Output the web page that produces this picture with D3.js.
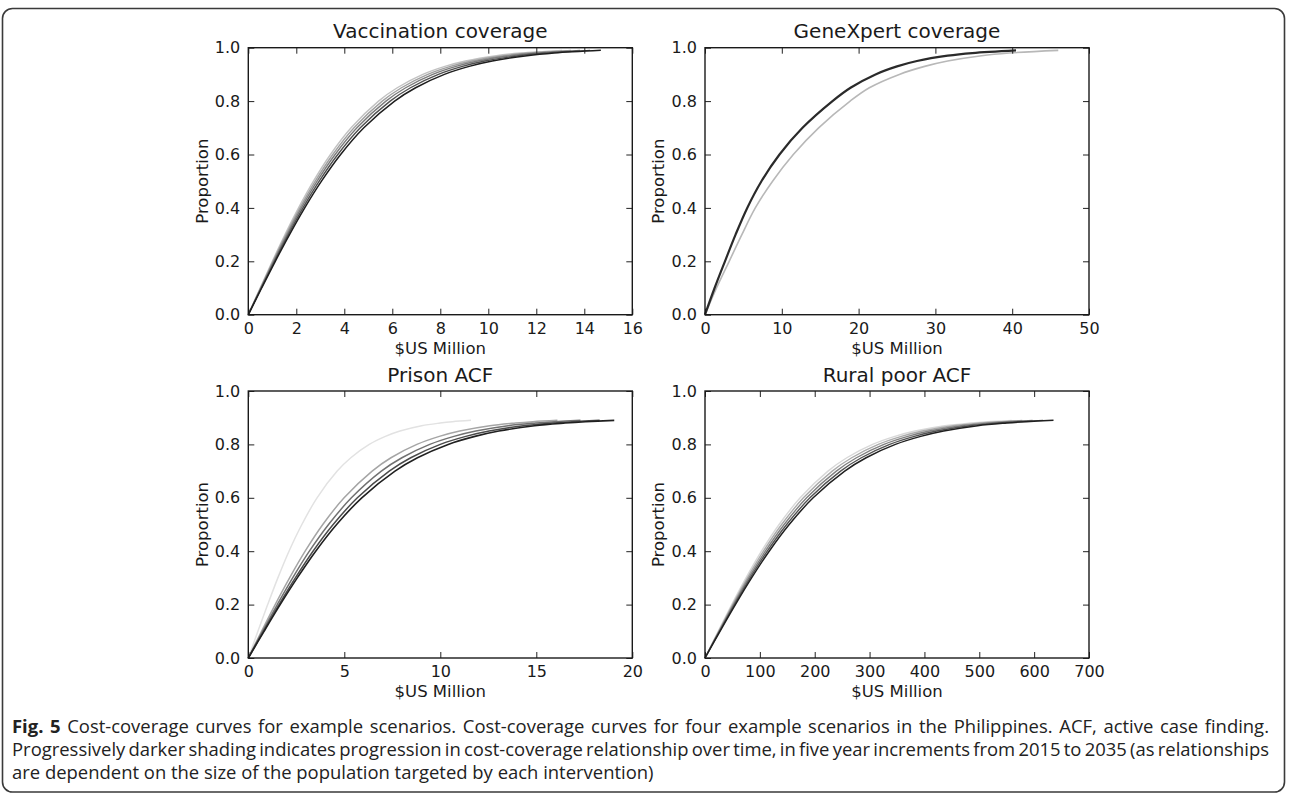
<!DOCTYPE html>
<html>
<head>
<meta charset="utf-8">
<script src="https://cdn.jsdelivr.net/npm/d3@7"></script>
<style>
  html, body { margin: 0; padding: 0; background: #fff; }
  svg { display: block; }
</style>
</head>
<body>
<svg id="chart" width="1290" height="797"></svg>
<script>
// ---------------- DATA ----------------
const panelTitles = ["Vaccination coverage", "GeneXpert coverage", "Prison ACF", "Rural poor ACF"];
const xLabel = "$US Million";
const yLabel = "Proportion";

const vacXTicks = [0, 2, 4, 6, 8, 10, 12, 14, 16];
const genXTicks = [0, 10, 20, 30, 40, 50];
const priXTicks = [0, 5, 10, 15, 20];
const rurXTicks = [0, 100, 200, 300, 400, 500, 600, 700];
const yTicks = [0.0, 0.2, 0.4, 0.6, 0.8, 1.0];

// coverage levels (proportion) at which cost is read
const highLevels = [0, 0.1, 0.2, 0.3, 0.4, 0.5, 0.6, 0.7, 0.8, 0.85, 0.9, 0.93, 0.95, 0.97, 0.98, 0.99];
const lowLevels  = [0, 0.1, 0.2, 0.3, 0.4, 0.5, 0.6, 0.7, 0.75, 0.8, 0.83, 0.85, 0.87, 0.88, 0.885, 0.89];

// Vaccination coverage: cost ($US million) per level, 2015 -> 2035
const vacCost2015 = [0, 0.495, 1.001, 1.529, 2.093, 2.714, 3.424, 4.284, 5.427, 6.206, 7.273, 8.193, 9.049, 10.336, 11.350, 13.07];
const vacCost2020 = [0, 0.510, 1.030, 1.572, 2.152, 2.790, 3.521, 4.406, 5.581, 6.381, 7.479, 8.425, 9.306, 10.629, 11.672, 13.45];
const vacCost2025 = [0, 0.524, 1.058, 1.616, 2.211, 2.867, 3.618, 4.527, 5.735, 6.557, 7.685, 8.657, 9.562, 10.922, 11.993, 13.82];
const vacCost2030 = [0, 0.540, 1.091, 1.665, 2.279, 2.955, 3.729, 4.666, 5.910, 6.758, 7.920, 8.922, 9.855, 11.257, 12.361, 14.24];
const vacCost2035 = [0, 0.557, 1.125, 1.718, 2.351, 3.049, 3.847, 4.814, 6.097, 6.972, 8.171, 9.204, 10.166, 11.612, 12.752, 14.69];

// GeneXpert coverage
const genCost2015 = [0, 1.5, 3.15, 4.8, 6.55, 8.8, 11.5, 14.8, 18.9, 21.4, 25.3, 28.6, 31.6, 36.0, 39.6, 46.0];
const genCost2020 = [0, 1.25, 2.6, 3.98, 5.5, 7.35, 9.7, 12.7, 16.6, 18.95, 22.2, 25.0, 27.6, 31.6, 34.8, 40.5];

// Prison ACF
const priCost2015 = [0, 0.50, 1.01, 1.54, 2.12, 2.79, 3.58, 4.63, 5.34, 6.30, 7.14, 7.90, 9.03, 9.99, 10.63, 11.6];
const priCost2020 = [0, 0.69, 1.40, 2.15, 2.96, 3.88, 4.99, 6.45, 7.43, 8.78, 9.95, 11.01, 12.58, 13.92, 14.82, 16.1];
const priCost2025 = [0, 0.74, 1.51, 2.31, 3.18, 4.18, 5.37, 6.93, 8.00, 9.45, 10.71, 11.85, 13.53, 14.97, 15.94, 17.3];
const priCost2030 = [0, 0.79, 1.60, 2.45, 3.37, 4.42, 5.68, 7.34, 8.46, 10.0, 11.33, 12.54, 14.32, 15.85, 16.87, 18.3];
const priCost2035 = [0, 0.82, 1.66, 2.55, 3.51, 4.60, 5.91, 7.64, 8.81, 10.41, 11.80, 13.05, 14.91, 16.50, 17.56, 19.06];

// Rural poor ACF
const rurCost2015 = [0, 24.1, 48.7, 74.7, 102.9, 135.1, 173.5, 224.2, 258.5, 305.4, 346.1, 382.9, 437.4, 483.9, 515.2, 559.1];
const rurCost2020 = [0, 24.9, 50.4, 77.3, 106.5, 139.7, 179.4, 231.9, 267.4, 315.9, 358.0, 396.0, 452.4, 500.5, 532.9, 578.3];
const rurCost2025 = [0, 25.7, 52.0, 79.8, 110.0, 144.3, 185.3, 239.4, 276.1, 326.2, 369.7, 409.0, 467.2, 516.9, 550.3, 597.2];
const rurCost2030 = [0, 26.5, 53.7, 82.4, 113.5, 148.9, 191.3, 247.1, 285.0, 336.7, 381.6, 422.1, 482.2, 533.5, 568.0, 616.4];
const rurCost2035 = [0, 27.3, 55.4, 84.9, 117.0, 153.5, 197.2, 254.7, 293.7, 347.1, 393.3, 435.1, 497.0, 549.9, 585.5, 635.3];

const captionBold = "Fig. 5";
const captionLines = [
  " Cost-coverage curves for example scenarios. Cost-coverage curves for four example scenarios in the Philippines. ACF, active case finding.",
  "Progressively darker shading indicates progression in cost-coverage relationship over time, in five year increments from 2015 to 2035 (as relationships",
  "are dependent on the size of the population targeted by each intervention)"
];

// ---------------- LAYOUT / STYLE ----------------
const svg = d3.select("#chart");
const FONT = "'DejaVu Sans', sans-serif";

const panels = [
  { title: panelTitles[0], left: 248.3, top: 47.7, xMax: 16, xTicks: vacXTicks, levels: highLevels,
    series: [vacCost2015, vacCost2020, vacCost2025, vacCost2030, vacCost2035],
    colors: ["#c2c2c2", "#a0a0a0", "#7c7c7c", "#505050", "#1e1e1e"], widths: [1.4,1.4,1.4,1.4,1.5] },
  { title: panelTitles[1], left: 705, top: 47.7, xMax: 50, xTicks: genXTicks, levels: highLevels,
    series: [genCost2015, genCost2020],
    colors: ["#b8b8b8", "#2a2a2a"], widths: [1.6, 2.2] },
  { title: panelTitles[2], left: 248.3, top: 391, xMax: 20, xTicks: priXTicks, levels: lowLevels,
    series: [priCost2015, priCost2020, priCost2025, priCost2030, priCost2035],
    colors: ["#e2e2e2", "#a5a5a5", "#717171", "#4a4a4a", "#202020"], widths: [1.5,1.5,1.5,1.5,1.6] },
  { title: panelTitles[3], left: 705, top: 391, xMax: 700, xTicks: rurXTicks, levels: lowLevels,
    series: [rurCost2015, rurCost2020, rurCost2025, rurCost2030, rurCost2035],
    colors: ["#d8d8d8", "#ababab", "#808080", "#525252", "#202020"], widths: [1.4,1.4,1.4,1.4,1.5] }
];
const PW = 384, PH = 267;

panels.forEach(p => {
  const g = svg.append("g").attr("transform", `translate(${p.left},${p.top})`);
  const x = d3.scaleLinear().domain([0, p.xMax]).range([0, PW]);
  const y = d3.scaleLinear().domain([0, 1]).range([PH, 0]);

  // curves
  const line = d3.line()
    .x(d => x(d[0]))
    .y(d => y(d[1]))
    .curve(d3.curveCatmullRom.alpha(0.5));
  p.series.forEach((s, i) => {
    const pts = s.map((c, k) => [c, p.levels[k]]);
    g.append("path")
      .attr("d", line(pts))
      .attr("fill", "none")
      .attr("stroke", p.colors[i])
      .attr("stroke-width", p.widths[i])
      .attr("stroke-linejoin", "round");
  });

  // axes with inward ticks
  const tickFmtX = d3.format("d");
  const tickFmtY = d3.format(".1f");
  const axB = d3.axisBottom(x).tickValues(p.xTicks).tickSizeInner(-6).tickSizeOuter(0).tickPadding(8).tickFormat(tickFmtX);
  const axT = d3.axisTop(x).tickValues(p.xTicks).tickSizeInner(-6).tickSizeOuter(0).tickFormat("");
  const axL = d3.axisLeft(y).tickValues(yTicks).tickSizeInner(-6).tickSizeOuter(0).tickPadding(8).tickFormat(tickFmtY);
  const axR = d3.axisRight(y).tickValues(yTicks).tickSizeInner(-6).tickSizeOuter(0).tickFormat("");

  const styleAxis = sel => {
    sel.select(".domain").remove();
    sel.selectAll(".tick line").attr("stroke", "#222").attr("stroke-width", 1);
    sel.selectAll(".tick text").attr("fill", "#1a1a1a").style("font-family", FONT).style("font-size", "16px");
  };
  g.append("g").attr("transform", `translate(0,${PH})`).call(axB).call(styleAxis);
  g.append("g").call(axT).call(styleAxis);
  g.append("g").call(axL).call(styleAxis);
  g.append("g").attr("transform", `translate(${PW},0)`).call(axR).call(styleAxis);

  // frame
  g.append("rect").attr("x", 0).attr("y", 0).attr("width", PW).attr("height", PH)
    .attr("fill", "none").attr("stroke", "#1a1a1a").attr("stroke-width", 1.4);

  // title
  g.append("text").attr("x", PW / 2).attr("y", -9.5).attr("text-anchor", "middle")
    .style("font-family", FONT).style("font-size", "20px").attr("fill", "#1a1a1a").text(p.title);

  // x label
  g.append("text").attr("x", PW / 2).attr("y", PH + 39).attr("text-anchor", "middle")
    .style("font-family", FONT).style("font-size", "16.5px").attr("fill", "#1a1a1a").text(xLabel);

  // y label
  g.append("text").attr("transform", `translate(-46.5,${PH / 2}) rotate(-90)`).attr("dy", "0.35em")
    .attr("text-anchor", "middle")
    .style("font-family", FONT).style("font-size", "16.5px").attr("fill", "#1a1a1a").text(yLabel);
});

// ---------------- CAPTION ----------------
const capFont = "'Open Sans', sans-serif";
const capG = svg.append("g");
const capBase = [732.5, 755.5, 778.5];
const capX = 12, capRight = 1269;
const t0 = capG.append("text").attr("x", capX).attr("y", capBase[0])
  .style("font-family", capFont).style("font-size", "15px").attr("fill", "#222");
t0.append("tspan").style("font-weight", "bold").text(captionBold);
t0.append("tspan").text(captionLines[0]);
const t1 = capG.append("text").attr("x", capX).attr("y", capBase[1])
  .style("font-family", capFont).style("font-size", "15px").attr("fill", "#222").text(captionLines[1]);
const t2 = capG.append("text").attr("x", capX).attr("y", capBase[2])
  .style("font-family", capFont).style("font-size", "15px").attr("fill", "#222").text(captionLines[2]);
// size the caption so the last (unjustified) line matches the reference length
const w2 = t2.node().getComputedTextLength();
const fs = 15 * 642 / w2;
[t0, t1, t2].forEach(t => t.style("font-size", fs.toFixed(2) + "px"));
// justify first two lines
[[t0, captionBold + captionLines[0]], [t1, captionLines[1]]].forEach(([t, str]) => {
  const w = t.node().getComputedTextLength();
  const n = (str.match(/ /g) || []).length;
  t.style("word-spacing", ((capRight - capX - w) / n).toFixed(3) + "px");
});

// ---------------- FRAME ----------------
svg.append("rect").attr("x", 2.5).attr("y", 8.5).attr("width", 1282).attr("height", 783.5)
  .attr("rx", 10).attr("ry", 10)
  .attr("fill", "none").attr("stroke", "#3a3a3a").attr("stroke-width", 1.6);
</script>
</body>
</html>
